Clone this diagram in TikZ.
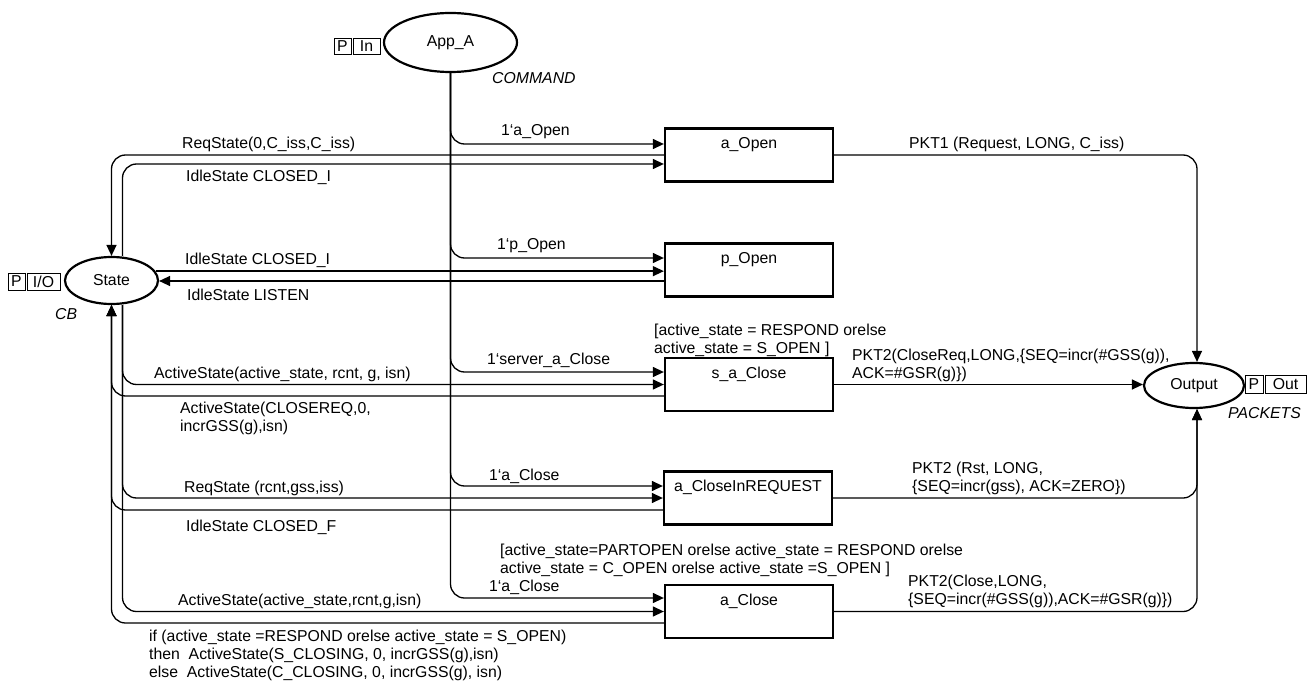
\documentclass[tikz,border=0pt]{standalone}
\usepackage{fontspec}
\setmainfont{Liberation Sans}
\usetikzlibrary{arrows.meta,shapes.geometric,calc}
\begin{document}
\begin{tikzpicture}[x=1pt,y=-1pt,
  font=\fontsize{15.8pt}{18pt}\selectfont,
  place/.style={ellipse,draw,line width=2.2pt,inner sep=0pt},
  trans/.style={rectangle,draw,line width=2.3pt,minimum width=168pt,minimum height=53pt,inner sep=0pt},
  tlabel/.style={anchor=north,inner sep=0pt,yshift=-9.5pt},
  tag/.style={draw,line width=0.8pt,inner sep=0pt,minimum height=17pt},
  arc/.style={line width=1.3pt,rounded corners=14pt},
  arr/.style={arc,-{Triangle[length=11pt,width=10pt]}},
  lbl/.style={anchor=base west,inner sep=0pt},
  mlbl/.style={anchor=west,inner sep=0pt,align=left},
  typ/.style={anchor=base west,inner sep=0pt,font=\fontsize{15.8pt}{18pt}\selectfont\itshape}]
\useasboundingbox (0,0) rectangle (1312,682);

% places
\node[place,minimum width=133pt,minimum height=59pt] (app) at (450.5,42.5) {App\_A};
\node[place,minimum width=93pt,minimum height=47pt] (st) at (111.5,280.5) {State};
\node[place,minimum width=100pt,minimum height=45pt] (out) at (1194,385.5) {Output};

% port tags
\node[tag,minimum width=17pt,minimum height=16pt] (appP) at (342.5,46) {P};
\node[tag,minimum width=27pt,minimum height=16pt] (appIn) at (366.5,46) {In};
\node[tag,minimum width=17pt] (stP) at (16.5,281.5) {P};
\node[tag,minimum width=33pt] (stIO) at (43.5,281.5) {I/O};
\node[tag,minimum width=18pt,minimum height=18pt] (outP) at (1254,384) {P};
\node[tag,minimum width=41pt,minimum height=18pt] (outOut) at (1285.5,384) {Out};

% types
\node[typ] (tyCmd) at (492,83.7) {COMMAND};
\node[typ] (tyCB) at (55,319.7) {CB};
\node[typ] (tyPk) at (1228,418.7) {PACKETS};

% transitions
\node[trans,label={[tlabel]north:a\_Open}] (ao) at (749,155) {};
\node[trans,label={[tlabel]north:p\_Open}] (po) at (749,270) {};
\node[trans,label={[tlabel]north:s\_a\_Close}] (sac) at (749,384.5) {};
\node[trans,label={[tlabel]north:a\_CloseInREQUEST}] (acr) at (748,498) {};
\node[trans,label={[tlabel]north:a\_Close}] (ac) at (749,611.5) {};

% arcs from App_A
\draw[arr] (app.south) |- ([yshift=11pt]ao.west);
\draw[arr] (app.south) |- ([yshift=12pt]po.west);
\draw[arr] (app.south) |- ([yshift=12.5pt]sac.west);
\draw[arr] (app.south) |- ([yshift=12pt]acr.west);
\draw[arr] (app.south) |- ([yshift=13.5pt]ac.west);

% State <-> a_Open
\draw[arr] (ao.west) -| (st.north);
\draw[arr] ([xshift=11pt]st.north) |- ([yshift=-9pt]ao.west);

% State <-> p_Open
\coordinate (lis) at ([yshift=-11pt]po.west);
\draw[arr] (st.12) -- (st.12 -| po.west);
\draw[arr] (lis) -- (lis -| st.east);

% State <-> s_a_Close
\draw[arr] ([xshift=11pt]st.south) |- (sac.west);
\draw[arr] ([yshift=-11.5pt]sac.west) -| (st.south);

% State <-> a_CloseInREQUEST
\draw[arr] ([xshift=11pt]st.south) |- (acr.west);
\draw[arr] ([yshift=-12pt]acr.west) -| (st.south);

% State <-> a_Close
\draw[arr] ([xshift=11pt]st.south) |- (ac.west);
\draw[arr] ([yshift=-11.5pt]ac.west) -| (st.south);

% to Output
\draw[arr] (ao.east) -| ([xshift=3pt]out.north);
\draw[arr] (sac.east) -- (sac.east -| out.west);
\draw[arr] (acr.east) -| ([xshift=3pt]out.south);
\draw[arr] (ac.east) -| ([xshift=3pt]out.south);

% arc inscriptions
\node[lbl] (l1) at (182,148.7) {ReqState(0,C\_iss,C\_iss)};
\node[lbl] (l2) at (186,181.7) {IdleState CLOSED\_I};
\node[lbl] (l3) at (501,135.7) {1‘a\_Open};
\node[lbl] (l4) at (909,148.7) {PKT1 (Request, LONG, C\_iss)};
\node[lbl] (l5) at (497,249.7) {1‘p\_Open};
\node[lbl] (l6) at (185,264.7) {IdleState CLOSED\_I};
\node[lbl] (l7) at (187,300.7) {IdleState LISTEN};
\node[lbl] (l8) at (487,364.7) {1‘server\_a\_Close};
\node[lbl] (l9) at (154,378.7) {ActiveState(active\_state, rcnt, g, isn)};
\node[lbl] (l10) at (489,480.7) {1‘a\_Close};
\node[lbl] (l11) at (184,492.7) {ReqState (rcnt,gss,iss)};
\node[lbl] (l12) at (186,531.7) {IdleState CLOSED\_F};
\node[lbl] (l13) at (489,591.7) {1‘a\_Close};
\node[lbl] (l14) at (178,605.7) {ActiveState(active\_state,rcnt,g,isn)};

\node[mlbl] (g1) at (654,340.6) {[active\_state = RESPOND orelse\\active\_state = S\_OPEN ]};
\node[mlbl] (m1) at (852,365.6) {PKT2(CloseReq,LONG,\{SEQ=incr(\#GSS(g)),\\ACK=\#GSR(g)\})};
\node[mlbl] (m2) at (180,418.1) {ActiveState(CLOSEREQ,0,\\incrGSS(g),isn)};
\node[mlbl] (m3) at (912,478.1) {PKT2 (Rst, LONG,\\\{SEQ=incr(gss), ACK=ZERO\})};
\node[mlbl] (g2) at (500,560.6) {[active\_state=PARTOPEN orelse active\_state = RESPOND orelse\\active\_state = C\_OPEN orelse active\_state =S\_OPEN ]};
\node[mlbl] (m4) at (908,591.1) {PKT2(Close,LONG,\\\{SEQ=incr(\#GSS(g)),ACK=\#GSR(g)\})};
\node[mlbl] (m5) at (149,655.6) {if (active\_state =RESPOND orelse active\_state = S\_OPEN)\\then~~ActiveState(S\_CLOSING, 0, incrGSS(g),isn)\\else~~ActiveState(C\_CLOSING, 0, incrGSS(g), isn)};
\end{tikzpicture}
\end{document}
